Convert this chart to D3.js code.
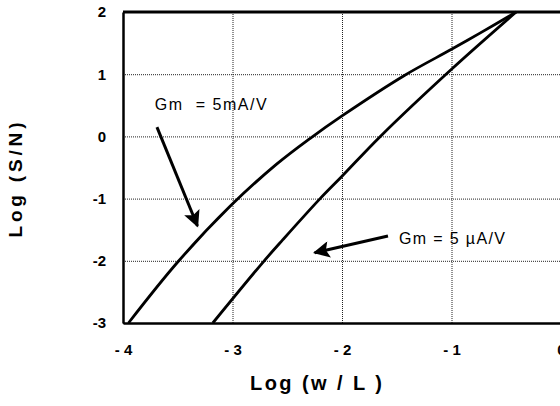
<!DOCTYPE html>
<html>
<head>
<meta charset="utf-8">
<script src="https://cdn.jsdelivr.net/npm/d3@7"></script>
<style>
  body { margin: 0; background: #fff; }
  text { font-family: "Liberation Sans", Arial, sans-serif; fill: #000; }
  .grid line { stroke: #222; stroke-width: 1; stroke-dasharray: 1,1; }
  .grid path { display: none; }
</style>
</head>
<body>
<script>
// values: Log(w/L) -> Log(S/N)
var gm5mA_x = [-3.95, -3.5, -3.02, -2.6, -2.29, -2.0, -1.43, -1.0, -0.74, -0.41];
var gm5mA_y = [-3.0, -2.02, -1.12, -0.45, -0.03, 0.33, 0.98, 1.4, 1.66, 2.0];
var gm5uA_x = [-3.18, -2.72, -2.54, -2.2, -2.0, -1.65, -1.0, -0.41];
var gm5uA_y = [-3.0, -2.02, -1.66, -1.0, -0.64, 0.0, 1.08, 2.0];

var xTicks = [-4, -3, -2, -1, 0];
var xTickLabels = ["- 4", "- 3", "- 2", "- 1", "0"];
var yTicks = [-3, -2, -1, 0, 1, 2];
var yTickLabels = ["-3", "-2", "-1", "0", "1", "2"];

// annotation text and arrows (data coords)
var labels = [
  { text: "Gm  = 5mA/V", x: -3.71, y: 0.42, len: 112 },
  { text: "Gm = 5 \u00b5A/V", x: -1.48, y: -1.73, len: 106 }
];
var arrows = [
  { x1: -3.69, y1: 0.15, x2: -3.32, y2: -1.44 },
  { x1: -1.58, y1: -1.6, x2: -2.25, y2: -1.87 }
];

// setting up canvas size
var margin = { top: 12, right: 0, bottom: 83, left: 123 },
    width = 561 - margin.left - margin.right,
    height = 406 - margin.top - margin.bottom;

var x = d3.scaleLinear().domain([-4, 0]).range([0, width]);
var y = d3.scaleLinear().domain([-3, 2]).range([height, 0]);

var svg = d3.select("body")
    .append("svg")
    .attr("width", 560)
    .attr("height", 406)
    .append("g")
    .attr("transform", "translate(" + margin.left + "," + margin.top + ")");

// dotted grid
svg.append("g")
    .attr("class", "grid")
    .attr("transform", "translate(0," + height + ")")
    .call(d3.axisBottom(x).tickValues(xTicks).tickSize(-height).tickFormat(""));
svg.append("g")
    .attr("class", "grid")
    .call(d3.axisLeft(y).tickValues(yTicks).tickSize(-width).tickFormat(""));

// x axis labels
var xAxis = svg.append("g")
    .attr("transform", "translate(0," + height + ")")
    .call(d3.axisBottom(x).tickValues(xTicks).tickSize(0).tickPadding(21)
        .tickFormat(function(d, i) { return xTickLabels[i]; }));
xAxis.select(".domain").attr("stroke", "#000").attr("stroke-width", 2.5);
xAxis.selectAll("text")
    .attr("font-size", 15).attr("font-weight", "bold")
    .attr("font-family", "Liberation Sans, Arial, sans-serif")
    .style("white-space", "pre");

// y axis labels
var yAxis = svg.append("g")
    .call(d3.axisLeft(y).tickValues(yTicks).tickSize(0).tickPadding(17)
        .tickFormat(function(d) { return yTickLabels[yTicks.indexOf(d)]; }));
yAxis.select(".domain").attr("stroke", "#000").attr("stroke-width", 2.5);
yAxis.selectAll("text")
    .attr("font-size", 15).attr("font-weight", "bold")
    .attr("font-family", "Liberation Sans, Arial, sans-serif");

// top frame line
svg.append("line")
    .attr("x1", x(-4)).attr("x2", x(0))
    .attr("y1", y(2)).attr("y2", y(2))
    .attr("stroke", "#000").attr("stroke-width", 3);

// curves
var line = d3.line()
    .x(function(d) { return x(d[0]); })
    .y(function(d) { return y(d[1]); })
    .curve(d3.curveCatmullRom.alpha(0.5));

[d3.zip(gm5mA_x, gm5mA_y), d3.zip(gm5uA_x, gm5uA_y)].forEach(function(pts) {
    svg.append("path")
        .datum(pts)
        .attr("fill", "none")
        .attr("stroke", "#000")
        .attr("stroke-width", 2.8)
        .attr("d", line);
});

// annotation labels
svg.selectAll(".lbl")
    .data(labels)
    .enter()
    .append("text")
    .attr("class", "lbl")
    .attr("x", function(d) { return x(d.x); })
    .attr("y", function(d) { return y(d.y); })
    .attr("font-size", 16)
    .attr("textLength", function(d) { return d.len; })
    .attr("lengthAdjust", "spacing")
    .style("white-space", "pre")
    .text(function(d) { return d.text; });

// arrows
svg.append("defs").append("marker")
    .attr("id", "head")
    .attr("viewBox", "0 0 10 10")
    .attr("refX", 9).attr("refY", 5)
    .attr("markerWidth", 6).attr("markerHeight", 5.5)
    .attr("markerUnits", "strokeWidth")
    .attr("orient", "auto")
    .append("path")
    .attr("d", "M0,0 L10,5 L0,10 L2,5 Z")
    .attr("fill", "#000");

svg.selectAll(".arrow")
    .data(arrows)
    .enter()
    .append("line")
    .attr("class", "arrow")
    .attr("x1", function(d) { return x(d.x1); })
    .attr("y1", function(d) { return y(d.y1); })
    .attr("x2", function(d) { return x(d.x2); })
    .attr("y2", function(d) { return y(d.y2); })
    .attr("stroke", "#000")
    .attr("stroke-width", 3)
    .attr("marker-end", "url(#head)");

// axis titles
svg.append("text")
    .attr("x", 193)
    .attr("y", 378)
    .attr("text-anchor", "middle")
    .attr("font-size", 20)
    .attr("font-weight", "bold")
    .attr("textLength", 132)
    .attr("lengthAdjust", "spacing")
    .style("white-space", "pre")
    .text("Log (w / L )");

svg.append("text")
    .attr("transform", "translate(" + (-101) + "," + 168 + ") rotate(-90)")
    .attr("text-anchor", "middle")
    .attr("font-size", 19)
    .attr("font-weight", "bold")
    .attr("textLength", 115)
    .attr("lengthAdjust", "spacing")
    .text("Log (S/N)");
</script>
</body>
</html>
